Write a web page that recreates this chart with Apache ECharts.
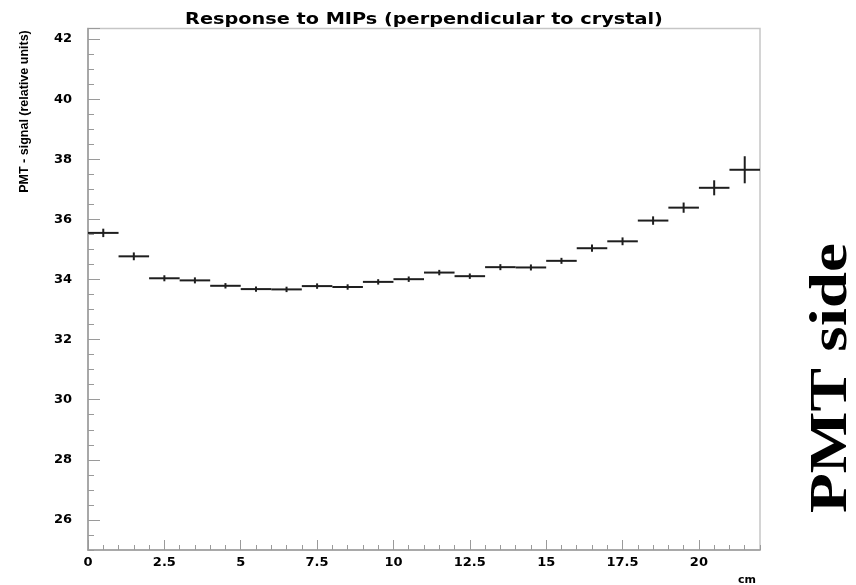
<!DOCTYPE html>
<html>
<head>
<meta charset="utf-8">
<script src="https://cdn.jsdelivr.net/npm/echarts@6/dist/echarts.min.js"></script>
<style>
  html, body { margin: 0; padding: 0; background: #ffffff; }
  #chart { width: 856px; height: 585px; }
</style>
</head>
<body>
<div id="chart"></div>
<script>
// Bin centres along the crystal (cm), 1 cm bins
const binCenters = [0.5, 1.5, 2.5, 3.5, 4.5, 5.5, 6.5, 7.5, 8.5, 9.5, 10.5,
                    11.5, 12.5, 13.5, 14.5, 15.5, 16.5, 17.5, 18.5, 19.5, 20.5, 21.5];
const binWidth = 1;

// Mean PMT signal per bin (relative units)
const signal = [35.55, 34.77, 34.04, 33.97, 33.79, 33.68, 33.67, 33.78, 33.75, 33.92, 34.01,
                34.23, 34.11, 34.41, 34.40, 34.62, 35.04, 35.27, 35.96, 36.39, 37.05, 37.65];

// Statistical error on the mean per bin
const signalErr = [0.14, 0.13, 0.10, 0.10, 0.09, 0.09, 0.09, 0.09, 0.09, 0.09, 0.09,
                   0.09, 0.09, 0.10, 0.10, 0.10, 0.12, 0.13, 0.14, 0.17, 0.25, 0.45];

// Axis tick labels
const xTickLabels = ['0', '2.5', '5', '7.5', '10', '12.5', '15', '17.5', '20'];
const yTickLabels = ['26', '28', '30', '32', '34', '36', '38', '40', '42'];

const titleText = 'Response to MIPs (perpendicular to crystal)';
const yTitle = 'PMT - signal (relative units)';
const xUnit = 'cm';
const sideNote = 'PMT side';

// Frame geometry and ranges
const xMin = 0, xMax = 22;
const yMin = 25, yMax = 42.35;
const plotLeft = 88, plotTop = 28.5, plotRight = 760, plotBottom = 550;
const pxPerUnit = (plotBottom - plotTop) / (yMax - yMin);
const majorYStart = 26; // first labelled value on the signal axis

const axisGrey = '#9a9a9a';
const tickFont = { fontFamily: 'DejaVu Sans', fontWeight: 'bold', fontSize: 13, color: '#000' };

const chart = echarts.init(document.getElementById('chart'), null, { renderer: 'canvas' });

function textEl(x, y, text, family, size, align, extra) {
  return Object.assign({
    type: 'text', x: x, y: y,
    style: {
      text: text, fontFamily: family, fontSize: size, fontWeight: 'bold', fill: '#000',
      align: align, verticalAlign: 'middle',
      textAlign: align, textVerticalAlign: 'middle'
    }
  }, extra || {});
}

const option = {
  animation: false,
  backgroundColor: '#ffffff',
  grid: [
    { // main plotting frame
      left: plotLeft, top: plotTop,
      width: plotRight - plotLeft, height: plotBottom - plotTop,
      show: true, borderColor: '#c6c6c6', borderWidth: 1.5,
      backgroundColor: 'transparent', containLabel: false
    },
    { // frame carrying the long (labelled) signal ticks, starting at 26
      left: plotLeft, top: plotTop,
      width: plotRight - plotLeft, height: (yMax - majorYStart) * pxPerUnit,
      show: false, containLabel: false
    }
  ],
  xAxis: [
    {
      gridIndex: 0, type: 'value', min: xMin, max: xMax, interval: 2.5,
      axisLine: { show: true, lineStyle: { color: axisGrey, width: 1.5 } },
      axisTick: { show: true, inside: true, length: 10, lineStyle: { color: axisGrey, width: 1 } },
      axisLabel: {
        show: true, margin: 6, showMaxLabel: false, ...tickFont,
        formatter: v => (xTickLabels.includes(String(v)) ? String(v) : '')
      },
      splitLine: { show: false }
    },
    {
      gridIndex: 0, type: 'value', min: xMin, max: xMax, interval: 0.5, position: 'bottom',
      axisLine: { show: false },
      axisTick: { show: true, inside: true, length: 5, lineStyle: { color: axisGrey, width: 1 } },
      axisLabel: { show: false },
      splitLine: { show: false }
    },
    {
      gridIndex: 1, type: 'value', min: xMin, max: xMax, show: false
    }
  ],
  yAxis: [
    {
      gridIndex: 0, type: 'value', min: yMin, max: yMax, interval: 0.5,
      axisLine: { show: true, lineStyle: { color: axisGrey, width: 1.5 } },
      axisTick: { show: true, inside: true, length: 6, lineStyle: { color: axisGrey, width: 1 } },
      axisLabel: { show: false },
      splitLine: { show: false }
    },
    {
      gridIndex: 1, type: 'value', min: majorYStart, max: yMax, interval: 2,
      axisLine: { show: false },
      axisTick: { show: true, inside: true, length: 12, lineStyle: { color: axisGrey, width: 1 } },
      axisLabel: {
        show: true, margin: 16, ...tickFont,
        formatter: v => (yTickLabels.includes(String(v)) ? String(v) : '')
      },
      splitLine: { show: false }
    }
  ],
  series: [
    {
      name: 'signal',
      type: 'custom',
      xAxisIndex: 0,
      yAxisIndex: 0,
      clip: false,
      encode: { x: 0, y: 1 },
      data: binCenters.map((c, i) => [c, signal[i], signalErr[i]]),
      renderItem: function (params, api) {
        const x = api.value(0), y = api.value(1), e = api.value(2);
        const lo = api.coord([x - binWidth / 2, y]);
        const hi = api.coord([x + binWidth / 2, y]);
        const top = api.coord([x, y + e]);
        const bot = api.coord([x, y - e]);
        const style = { stroke: '#1e1e1e', lineWidth: 2 };
        return {
          type: 'group',
          children: [
            { type: 'line', shape: { x1: lo[0], y1: lo[1], x2: hi[0], y2: hi[1] }, style: style },
            { type: 'line', shape: { x1: top[0], y1: top[1], x2: bot[0], y2: bot[1] }, style: style }
          ]
        };
      }
    }
  ],
  graphic: [
    // plot title, drawn wide
    textEl(424, 20, titleText, 'DejaVu Sans', 15, 'center', { scaleX: 1.285 }),
    // signal axis title
    textEl(25, 111.5, yTitle, 'Liberation Sans', 12.5, 'center', { rotation: Math.PI / 2 }),
    // position axis unit
    textEl(756, 580, xUnit, 'DejaVu Sans', 11, 'right'),
    // side annotation
    textEl(833, 378, sideNote, 'Liberation Serif', 52, 'center', { rotation: Math.PI / 2, scaleX: 1.255 })
  ]
};

chart.setOption(option);
</script>
</body>
</html>
